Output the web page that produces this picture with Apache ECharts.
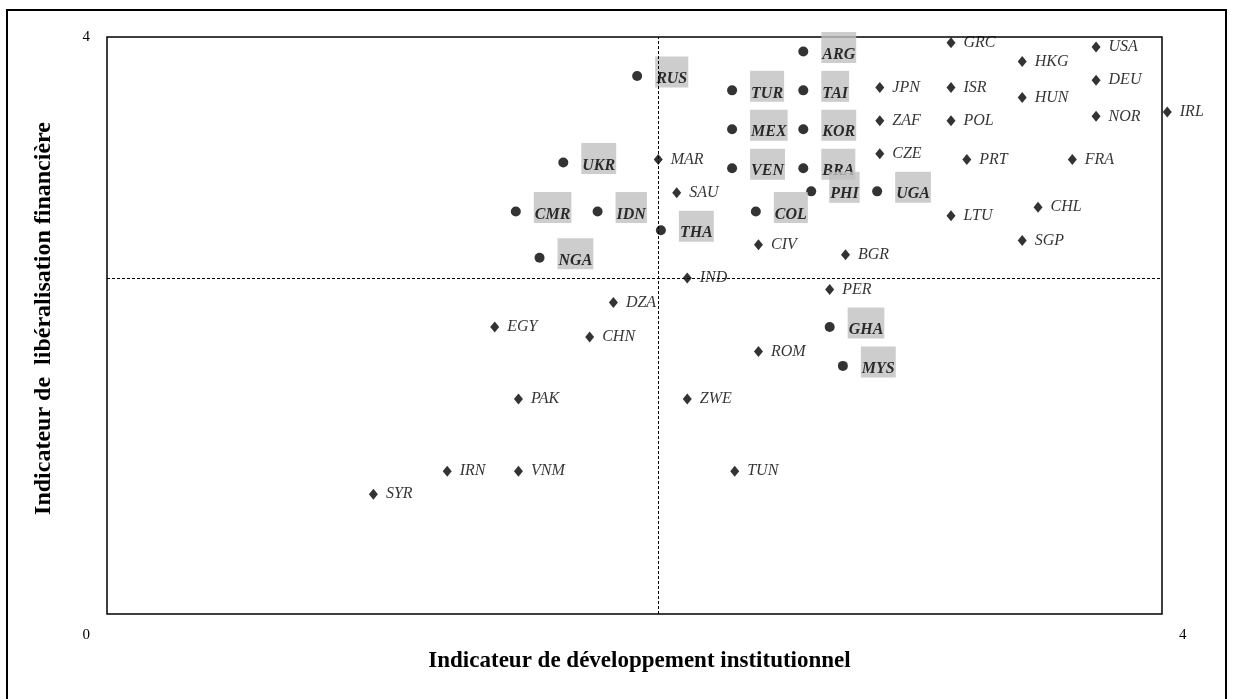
<!DOCTYPE html>
<html>
<head>
<meta charset="utf-8">
<script src="https://cdn.jsdelivr.net/npm/echarts@6/dist/echarts.min.js"></script>
<style>
html,body{margin:0;padding:0;background:#fff;}
#chart{width:1233px;height:699px;}
</style>
</head>
<body>
<div id="chart"></div>
<script>
// Circles (bold labels on grey background)
var circleNames = ['RUS','ARG','TUR','TAI','MEX','KOR','UKR','VEN','BRA','PHI','UGA','CMR','IDN','COL','THA','NGA','GHA','MYS'];
var circleX =     [2.01, 2.64, 2.37, 2.64, 2.37, 2.64, 1.73, 2.37, 2.64, 2.67, 2.92, 1.55, 1.86, 2.46, 2.10, 1.64, 2.74, 2.79];
var circleY =     [3.73, 3.90, 3.63, 3.63, 3.36, 3.36, 3.13, 3.09, 3.09, 2.93, 2.93, 2.79, 2.79, 2.79, 2.66, 2.47, 1.99, 1.72];

// Diamonds (italic labels)
var diamondNames = ['GRC','USA','HKG','DEU','JPN','ISR','HUN','IRL','NOR','ZAF','POL','CZE','PRT','FRA','MAR','SAU','CHL','LTU','SGP','CIV','BGR','IND','PER','DZA','EGY','CHN','ROM','PAK','ZWE','IRN','VNM','TUN','SYR'];
var diamondX =     [3.20, 3.75, 3.47, 3.75, 2.93, 3.20, 3.47, 4.02, 3.75, 2.93, 3.20, 2.93, 3.26, 3.66, 2.09, 2.16, 3.53, 3.20, 3.47, 2.47, 2.80, 2.20, 2.74, 1.92, 1.47, 1.83, 2.47, 1.56, 2.20, 1.29, 1.56, 2.38, 1.01];
var diamondY =     [3.96, 3.93, 3.83, 3.70, 3.65, 3.65, 3.58, 3.48, 3.45, 3.42, 3.42, 3.19, 3.15, 3.15, 3.15, 2.92, 2.82, 2.76, 2.59, 2.56, 2.49, 2.33, 2.25, 2.16, 1.99, 1.92, 1.82, 1.49, 1.49, 0.99, 0.99, 0.99, 0.83];

// Reference (mean) lines
var meanX = 2.09;
var meanY = 2.33;

var axisMin = 0, axisMax = 4;
var xTitle = 'Indicateur de développement institutionnel';
var yTitle = 'Indicateur de  libéralisation financière';

var serif = "'Liberation Serif', 'Times New Roman', serif";

function build(names, xs, ys) {
  return names.map(function (n, i) { return { name: n, value: [xs[i], ys[i]] }; });
}

var chart = echarts.init(document.getElementById('chart'));
chart.setOption({
  animation: false,
  backgroundColor: '#fff',
  graphic: [{
    type: 'rect',
    shape: { x: 7, y: 10, width: 1219, height: 700 },
    style: { fill: 'none', stroke: '#000', lineWidth: 2 },
    silent: true
  }],
  grid: { left: 107, right: 71, top: 37, bottom: 85, show: true, borderColor: '#000', borderWidth: 1.5, backgroundColor: 'transparent' },
  xAxis: {
    type: 'value', min: axisMin, max: axisMax, interval: 4,
    name: xTitle, nameLocation: 'middle', nameGap: 36,
    nameTextStyle: { fontFamily: serif, fontWeight: 'bold', fontSize: 23, color: '#000', padding: [0, 0, 0, 10] },
    axisLine: { show: false }, axisTick: { show: false }, splitLine: { show: false },
    axisLabel: { fontFamily: serif, fontSize: 15, color: '#000', margin: 14,
      alignMinLabel: 'right', alignMaxLabel: 'left', padding: [0, 17, 0, 17] }
  },
  yAxis: {
    type: 'value', min: axisMin, max: axisMax, interval: 4,
    name: yTitle, nameLocation: 'middle', nameGap: 51,
    nameTextStyle: { fontFamily: serif, fontWeight: 'bold', fontSize: 24, color: '#000', padding: [0, 0, 0, 14] },
    axisLine: { show: false }, axisTick: { show: false }, splitLine: { show: false },
    axisLabel: { fontFamily: serif, fontSize: 15, color: '#000', margin: 17, showMinLabel: false }
  },
  series: [
    {
      type: 'scatter', name: 'diamonds', clip: false,
      symbol: 'diamond', symbolSize: [9, 11],
      itemStyle: { color: '#000' },
      data: build(diamondNames, diamondX, diamondY),
      label: { show: true, position: 'right', distance: 8, formatter: '{b}',
        fontFamily: serif, fontStyle: 'italic', fontSize: 16, color: '#000' },
      markLine: {
        silent: true, symbol: 'none', animation: false,
        label: { show: false },
        lineStyle: { color: '#000', type: [3, 2], width: 1 },
        data: [{ xAxis: meanX }, { yAxis: meanY }]
      },
      z: 3
    },
    {
      type: 'scatter', name: 'circles', clip: false,
      symbol: 'circle', symbolSize: 10,
      itemStyle: { color: '#000' },
      data: build(circleNames, circleX, circleY),
      label: { show: true, position: 'right', distance: 13, offset: [0, -4],
        formatter: function (p) { return '\n' + p.name; },
        lineHeight: 14,
        fontFamily: serif, fontStyle: 'italic', fontWeight: 'bold', fontSize: 16, color: '#000',
        backgroundColor: '#c0c0c0', padding: [1, 1, 2, 1] },
      z: 4
    }
  ]
});
</script>
</body>
</html>
